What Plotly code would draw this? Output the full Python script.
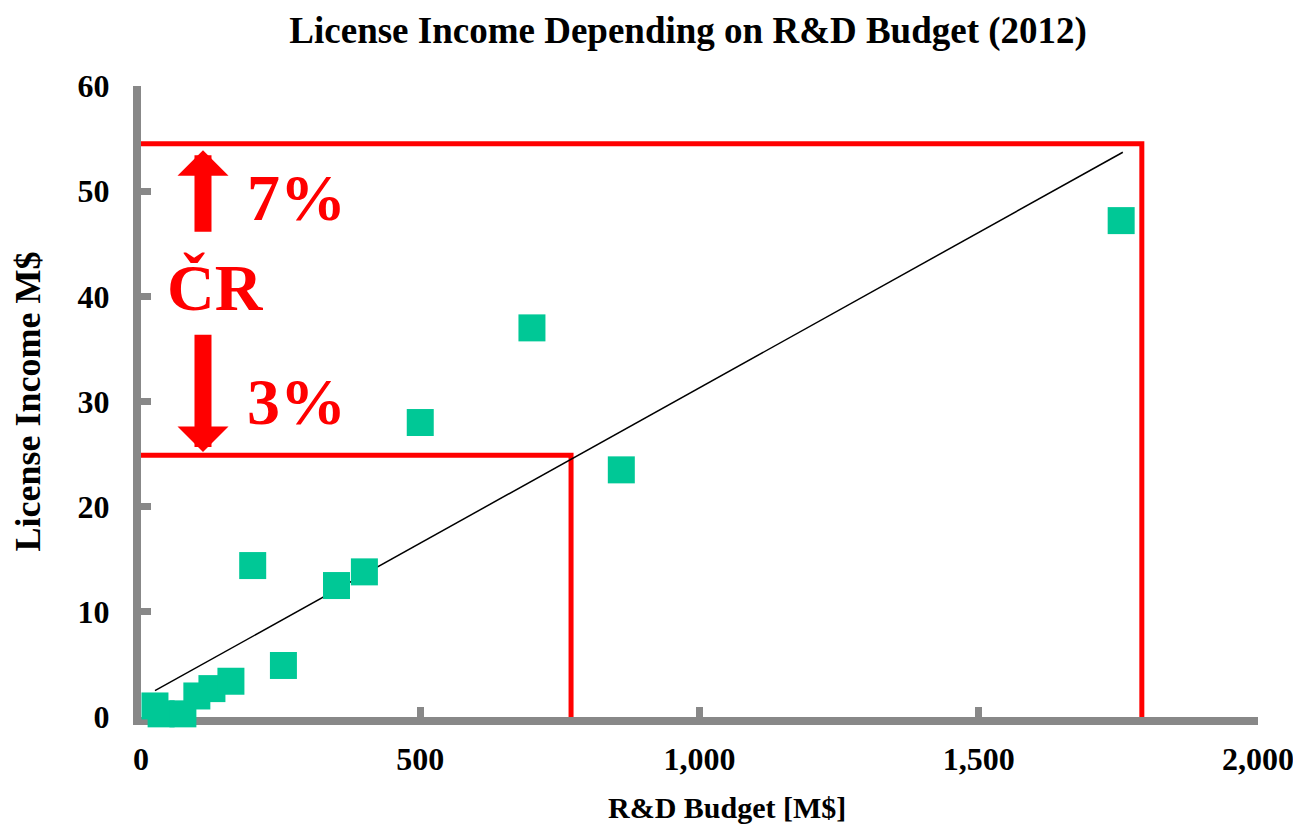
import plotly.graph_objects as go

# R&D budget [M$] vs license income [M$], 2012
rd_budget = [25, 36, 75, 100, 127, 161, 200, 255, 350, 400, 500, 700, 860, 1755]
license_income = [1.05, 0.3, 0.3, 2.0, 2.7, 3.4, 14.4, 4.9, 12.5, 13.8, 28.0, 37.0, 23.5, 47.2]

# linear trend line end points
trend_x = [25, 1758]
trend_y = [2.5, 53.7]

# red guide lines: 7 % and 3 % levels
upper_x = [-9, 1792, 1792]
upper_y = [54.5, 54.5, 0]
lower_x = [-9, 770, 770]
lower_y = [24.9, 24.9, 0]

x_ticks = [0, 500, 1000, 1500, 2000]
y_ticks = [0, 10, 20, 30, 40, 50, 60]

RED = "#ff0000"
GREEN = "#00c896"
GRAY = "#888888"
FONT = "Liberation Serif"

fig = go.Figure()

fig.add_trace(go.Scatter(x=upper_x, y=upper_y, mode="lines",
                         line=dict(color=RED, width=5), cliponaxis=False))
fig.add_trace(go.Scatter(x=lower_x, y=lower_y, mode="lines",
                         line=dict(color=RED, width=5), cliponaxis=False))
fig.add_trace(go.Scatter(x=trend_x, y=trend_y, mode="lines",
                         line=dict(color="black", width=1.5)))
fig.add_trace(go.Scatter(x=rd_budget, y=license_income, mode="markers",
                         marker=dict(symbol="square", size=27, color=GREEN),
                         cliponaxis=False))

# labels
fig.add_annotation(x=279, y=49.4, text="<b>7%</b>", showarrow=False,
                   font=dict(family=FONT, size=66, color=RED))
fig.add_annotation(x=134, y=40.8, text="<b>ČR</b>", showarrow=False,
                   font=dict(family=FONT, size=66, color=RED))
fig.add_annotation(x=279, y=30.0, text="<b>3%</b>", showarrow=False,
                   font=dict(family=FONT, size=66, color=RED))

# arrows
fig.add_annotation(x=111, y=53.9, ax=111, ay=46.0, axref="x", ayref="y",
                   text="", showarrow=True, arrowhead=1, arrowwidth=17,
                   arrowsize=0.5, arrowcolor=RED)
fig.add_annotation(x=111, y=25.2, ax=111, ay=36.5, axref="x", ayref="y",
                   text="", showarrow=True, arrowhead=1, arrowwidth=17,
                   arrowsize=0.5, arrowcolor=RED)

# x axis title sits a bit right of the plot centre in the original
fig.add_annotation(x=0.525, y=-0.144, xref="paper", yref="paper",
                   text="<b>R&D Budget [M$]</b>", showarrow=False,
                   yanchor="middle",
                   font=dict(family=FONT, size=30, color="black"))

axis_common = dict(showgrid=False, zeroline=False, showline=True,
                   linecolor=GRAY, linewidth=8, ticks="inside", ticklen=10,
                   tickwidth=7, tickcolor=GRAY, layer="below traces",
                   automargin=False,
                   tickfont=dict(family=FONT, size=32, color="black",
                                 weight="bold"))

# page body adds an 8px offset, so the figure is 8px smaller
fig.update_layout(
    width=1293, height=821,
    margin=dict(l=133, r=43, t=78, b=112),
    plot_bgcolor="white", paper_bgcolor="white",
    showlegend=False,
    title=dict(text="<b>License Income Depending on R&D Budget (2012)</b>",
               x=0.526, xanchor="center", y=0.973, yanchor="middle",
               font=dict(family=FONT, size=37, color="black")),
    xaxis=dict(range=[0, 2000], tickvals=x_ticks, tickformat=",",
               ticklabelstandoff=7, **axis_common),
    yaxis=dict(range=[0, 60], tickvals=y_ticks, ticklabelstandoff=17,
               title=dict(text="<b>License Income M$</b>", standoff=29,
                          font=dict(family=FONT, size=36, color="black")),
               **axis_common),
)

fig.write_html("out.html")
